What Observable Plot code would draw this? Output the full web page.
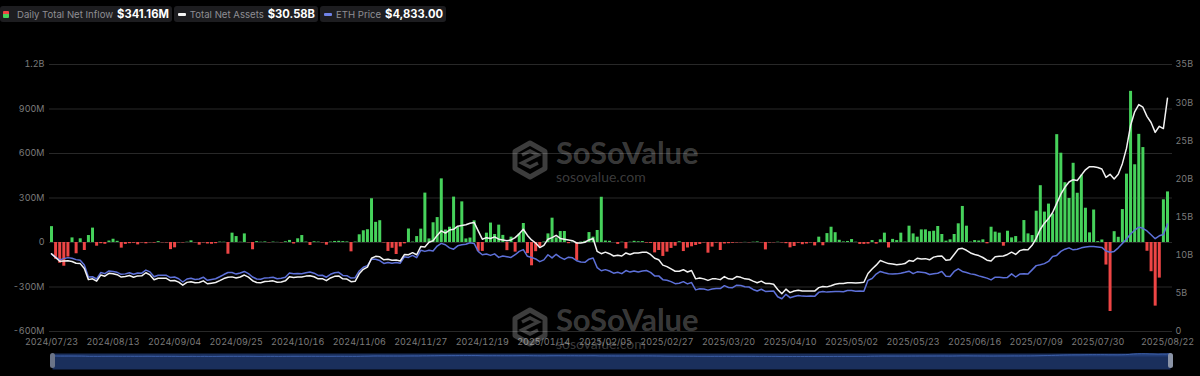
<!DOCTYPE html>
<html>
<head>
<meta charset="utf-8">
<script src="https://cdn.jsdelivr.net/npm/d3@7"></script>
<script src="https://cdn.jsdelivr.net/npm/@observablehq/plot@0.6"></script>
<style>
  html, body { margin: 0; padding: 0; background: #000; }
  body { width: 1200px; height: 376px; overflow: hidden; position: relative; font-family: Inter, "Noto Sans", sans-serif; }
  #legend { position: relative; height: 30px; display: flex; gap: 2px; align-items: flex-start; padding-top: 6px; box-sizing: border-box; }
  .item { height: 16px; background: #1d1d20; border-radius: 3px; display: flex; align-items: center; font-size: 9.6px; color: #8e8e93; white-space: nowrap; padding: 0 3px 0 4px; }
  .item b { color: #fff; font-weight: 700; font-size: 11.2px; margin-left: 4px; }
  .sw { display: inline-block; margin-right: 4px; }
  #chart svg, #nav svg { display: block; }
  #nav { position: relative; margin-top: 2px; }
  .wm { position: absolute; display: flex; align-items: flex-start; color: rgba(255,255,255,0.24); pointer-events: none; }
  .wm .t { margin-left: 7px; font-family: Lato, sans-serif; display: flex; flex-direction: column; }
  .wm .big { font-weight: 700; font-size: 31px; line-height: 30px; letter-spacing: -0.1px; }
  .wm .small { font-size: 14px; line-height: 14px; margin-top: 3px; }
  .handle { position: absolute; width: 5px; height: 15px; border-radius: 3px; background: #6b7488; }
</style>
</head>
<body>
<div id="legend">
  <div class="item" style="padding-left:3px">
    <span class="sw" style="width:6px;height:7px;background:linear-gradient(#ef4444 50%, #45d15a 50%);border-radius:1px;margin-right:8px"></span>Daily Total Net Inflow<b id="v1"></b>
  </div>
  <div class="item">
    <span class="sw" style="width:8px;height:3px;background:#f4f4f4;border-radius:1px"></span>Total Net Assets<b id="v2"></b>
  </div>
  <div class="item">
    <span class="sw" style="width:8px;height:3px;background:#6f82e6;border-radius:1px"></span>ETH Price<b id="v3"></b>
  </div>
</div>
<div id="chart"></div>
<div id="nav"></div>
<div class="wm" style="left:511px;top:137px">
  <svg width="38" height="40" viewBox="0 0 38 40" style="margin-top:3px"><path d="M19 3 L34 11.5 L34 28.5 L19 37 L4 28.5 L4 11.5 Z" fill="none" stroke="currentColor" stroke-width="5" stroke-linejoin="round"/><path d="M11 15 L19 11 L27 15 L19 19 L11 23 L19 27 L27 23" fill="none" stroke="currentColor" stroke-width="3.5"/></svg>
  <div class="t"><span class="big">SoSoValue</span><span class="small">sosovalue.com</span></div>
</div>
<div class="wm" style="left:511px;top:304px">
  <svg width="38" height="40" viewBox="0 0 38 40" style="margin-top:3px"><path d="M19 3 L34 11.5 L34 28.5 L19 37 L4 28.5 L4 11.5 Z" fill="none" stroke="currentColor" stroke-width="5" stroke-linejoin="round"/><path d="M11 15 L19 11 L27 15 L19 19 L11 23 L19 27 L27 23" fill="none" stroke="currentColor" stroke-width="3.5"/></svg>
  <div class="t"><span class="big">SoSoValue</span><span class="small">sosovalue.com</span></div>
</div>
<div class="handle" style="left:50px;top:353px"></div>
<div class="handle" style="left:1168px;top:353px;background:#8a93a6"></div>
<script>
// ---- Data (one value per US trading day, 2024/07/23 .. 2025/08/22) ----
// Daily total net inflow, millions USD
const flows = [
  107,-113,-140,-160,-98,31,-76,25,-54,47,97,-25,-8,-12,10,
  22,8,-38,-13,-8,-5,-16,-3,-9,-2,-4,6,-2,-3,-48,
  -36,-2,-3,2,11,-2,-18,-3,-10,-12,-8,3,2,-79,63,
  40,2,58,-2,-49,6,2,4,-2,3,1,-2,5,14,-10,
  25,47,3,-20,5,3,-3,-18,3,7,8,6,4,-63,3,
  52,79,86,295,136,147,-3,-60,-39,-81,-30,-9,91,3,40,
  90,333,24,133,168,429,84,103,306,102,274,24,30,146,-60,
  -60,63,131,54,117,48,-55,36,-65,58,128,-75,-157,-62,-30,
  3,58,164,31,74,74,-8,3,-121,3,8,67,36,81,305,
  10,8,0,-13,2,-43,2,8,5,6,-4,-6,-70,-54,-94,
  -65,-40,-25,5,-61,-37,-29,-20,-13,-3,-72,-31,-4,-54,-10,
  -8,-5,-3,-2,1,-2,2,4,-2,-50,-3,-2,2,-3,-8,
  -36,-27,-5,-15,-10,-3,-23,36,-22,60,103,66,15,4,7,
  20,2,-13,-13,-11,13,-11,18,63,-37,21,13,63,3,110,
  58,36,85,85,73,76,108,54,9,18,54,126,243,110,3,
  13,10,18,-9,103,70,63,-25,76,31,40,3,148,58,47,
  211,383,205,259,192,727,602,403,297,534,332,454,231,65,219,
  6,17,-152,-465,73,35,222,461,1019,524,729,640,-59,-197,-429,
  -240,288,341
];
// Total net assets, billions USD
const netAssets = [
  10.20,9.69,9.20,9.24,9.26,9.18,8.95,8.90,8.25,6.80,6.91,6.60,7.40,7.25,7.62,
  7.56,7.45,7.14,7.20,7.34,7.12,7.29,7.30,7.70,7.42,6.79,6.98,6.98,6.97,6.64,
  6.69,6.47,6.07,6.44,6.52,6.39,6.42,6.64,6.26,6.34,6.42,6.67,6.94,7.10,7.16,
  7.02,7.15,7.40,7.12,6.66,6.42,6.39,6.56,6.58,6.64,6.45,6.50,6.64,7.18,7.07,
  7.13,7.15,7.26,7.32,7.18,6.90,6.93,6.66,7.02,7.23,7.29,6.90,6.88,6.53,6.58,
  7.56,8.15,8.44,9.60,9.85,9.79,9.39,9.46,9.33,9.36,9.24,10.08,10.06,10.33,10.06,
  11.13,11.09,11.70,11.90,12.60,13.20,12.90,13.30,13.40,13.80,13.90,14.00,14.20,14.30,13.20,
  12.10,12.30,12.20,12.40,12.10,12.00,11.90,12.00,12.30,12.80,13.40,12.60,12.00,11.60,11.00,
  11.30,12.10,12.30,12.60,12.20,12.10,12.00,11.90,11.60,11.60,11.70,12.00,12.20,10.50,10.20,
  10.40,10.20,9.90,10.00,9.90,10.30,10.10,10.30,10.30,10.40,10.40,10.10,9.60,9.40,8.70,
  8.50,8.20,7.90,7.90,8.10,7.80,8.00,6.90,7.00,6.90,6.70,6.90,6.90,6.80,7.20,
  6.90,6.85,7.20,7.10,6.90,6.85,6.60,6.40,6.60,6.30,6.30,6.20,5.50,4.95,5.55,
  5.10,5.30,5.40,5.30,5.30,5.30,5.30,5.75,5.90,5.85,6.00,6.20,6.30,6.30,6.40,
  6.40,6.35,6.40,6.45,7.60,8.20,8.70,9.30,9.10,8.90,8.85,8.75,8.80,8.90,9.30,
  9.20,9.60,9.50,9.55,9.40,9.75,9.85,9.90,9.35,9.40,10.10,10.80,10.90,10.65,10.30,
  10.10,9.95,9.70,9.35,9.25,9.80,9.85,9.90,10.10,10.40,10.10,10.60,10.75,10.70,11.30,
  12.20,13.40,14.20,14.80,15.60,16.80,18.00,18.90,19.60,19.90,19.80,20.50,21.20,21.60,21.60,
  21.50,21.30,20.20,20.60,20.00,20.60,22.00,24.00,27.00,28.80,29.75,29.40,28.20,27.40,26.10,
  26.90,26.60,30.58
];
// ETH price, USD
const ethPrice = [
  3480,3340,3220,3275,3320,3290,3230,3200,2990,2450,2460,2360,2650,2600,2720,
  2700,2660,2570,2590,2640,2570,2630,2620,2760,2680,2460,2530,2530,2525,2425,
  2450,2370,2225,2360,2390,2340,2360,2440,2300,2340,2370,2460,2560,2650,2650,
  2580,2630,2700,2600,2450,2360,2350,2410,2420,2440,2370,2390,2440,2630,2600,
  2610,2600,2640,2670,2620,2520,2530,2440,2570,2640,2660,2520,2510,2400,2420,
  2720,2890,2960,3250,3250,3190,3060,3100,3070,3100,3070,3360,3330,3420,3320,
  3650,3600,3650,3620,3840,3960,3900,3760,3700,3850,3900,3920,3990,3960,3600,
  3450,3480,3420,3490,3330,3390,3360,3330,3450,3600,3680,3380,3330,3260,3140,
  3220,3450,3310,3470,3330,3240,3340,3310,3180,3120,3110,3250,3300,2870,2730,
  2780,2720,2620,2660,2600,2740,2670,2720,2670,2720,2740,2660,2500,2500,2330,
  2300,2240,2150,2170,2240,2140,2200,1870,1920,1910,1860,1910,1930,1930,2060,
  1980,1970,2080,2070,2010,2000,1890,1820,1900,1800,1810,1820,1560,1470,1670,
  1520,1570,1620,1590,1580,1590,1580,1760,1800,1770,1790,1800,1800,1790,1840,
  1840,1810,1820,1810,2300,2380,2580,2700,2640,2600,2580,2590,2620,2660,2710,
  2600,2680,2660,2640,2560,2600,2620,2700,2480,2470,2700,2820,2700,2650,2590,
  2560,2500,2450,2400,2320,2440,2440,2420,2430,2590,2450,2580,2600,2580,2770,
  2960,3000,3050,3150,3370,3420,3600,3700,3760,3670,3700,3760,3800,3820,3820,
  3800,3780,3620,3560,3600,3760,3960,4150,4380,4550,4690,4640,4520,4350,4170,
  4300,4360,4833
];
// Axis ticks and labels
const xTickIndex  = [0,15,30,45,60,75,90,105,120,135,150,165,180,195,210,225,240,255,272];
const xTickLabels = ["2024/07/23","2024/08/13","2024/09/04","2024/09/25","2024/10/16","2024/11/06","2024/11/27","2024/12/19","2025/01/14","2025/02/05","2025/02/27","2025/03/20","2025/04/10","2025/05/02","2025/05/23","2025/06/16","2025/07/09","2025/07/30","2025/08/22"];
const leftTickValues = [-600,-300,0,300,600,900,1200];
const leftTickLabels = ["-600M","-300M","0","300M","600M","900M","1.2B"];
const rightTickValues = [0,5,10,15,20,25,30,35];
const rightTickLabels = ["0","5B","10B","15B","20B","25B","30B","35B"];
const legendValues = ["$341.16M","$30.58B","$4,833.00"];

document.getElementById("v1").textContent = legendValues[0];
document.getElementById("v2").textContent = legendValues[1];
document.getElementById("v3").textContent = legendValues[2];

// dual-axis mapping onto the inflow scale (millions)
const Y0 = -600, Y1 = 1200;
const assetsToY = b => Y0 + b / 35 * (Y1 - Y0);      // 0..35B
const ethToY = p => Y0 + p / 12000 * (Y1 - Y0);       // hidden 0..12,000 USD axis

const green = "#46d25b", red = "#ee4545";
const flowData = flows.map((v, i) => ({i, v}));
const assetData = netAssets.map((v, i) => ({i, v}));
const ethData = ethPrice.map((v, i) => ({i, v}));
const xLab = new Map(xTickIndex.map((d, k) => [d, xTickLabels[k]]));
const lLab = new Map(leftTickValues.map((d, k) => [d, leftTickLabels[k]]));

const chart = Plot.plot({
  width: 1200,
  height: 320,
  marginTop: 34,
  marginBottom: 19,
  marginLeft: 51,
  marginRight: 33,
  style: {background: "transparent", color: "#7b7b7b", fontSize: "9px", fontFamily: "Inter, 'Noto Sans', sans-serif"},
  x: {domain: [0, 272], label: null},
  y: {domain: [Y0, Y1], label: null},
  marks: [
    Plot.ruleY(leftTickValues, {stroke: "#282828", strokeWidth: 1, insetLeft: -2, insetRight: -5}),
    Plot.ruleX(flowData, {x: "i", y1: 0, y2: "v", stroke: d => d.v >= 0 ? green : red, strokeWidth: 3}),
    Plot.line(ethData, {x: "i", y: d => ethToY(d.v), stroke: "#5d70d8", strokeWidth: 1.5}),
    Plot.line(assetData, {x: "i", y: d => assetsToY(d.v), stroke: "#f2f2f2", strokeWidth: 1.5}),
    Plot.axisY({ticks: leftTickValues, tickFormat: d => lLab.get(d), tickSize: 0, tickPadding: 7, fill: "#7b7b7b", label: null}),
    Plot.axisY({anchor: "right", ticks: rightTickValues.map(assetsToY),
      tickFormat: d => rightTickLabels[Math.round((d - Y0) / (Y1 - Y0) * 35 / 5)],
      tickSize: 0, tickPadding: 8, fill: "#7b7b7b", label: null}),
    Plot.axisX({ticks: xTickIndex, tickFormat: d => xLab.get(d), tickSize: 0, tickPadding: 7, fill: "#7b7b7b", label: null})
  ]
});
document.getElementById("chart").appendChild(chart);

const nav = Plot.plot({
  width: 1200,
  height: 18,
  marginTop: 1,
  marginBottom: 1,
  marginLeft: 52,
  marginRight: 30,
  style: {background: "transparent"},
  x: {domain: [0, 272], axis: null},
  y: {domain: [-110, 32], axis: null},
  marks: [
    Plot.frame({fill: "#1a2f5c", stroke: null}),
    Plot.areaY(assetData, {x: "i", y: "v", fill: "#223d76"}),
    Plot.lineY(assetData, {x: "i", y: "v", stroke: "#3c5ea6", strokeWidth: 1})
  ]
});
document.getElementById("nav").appendChild(nav);
</script>
</body>
</html>
